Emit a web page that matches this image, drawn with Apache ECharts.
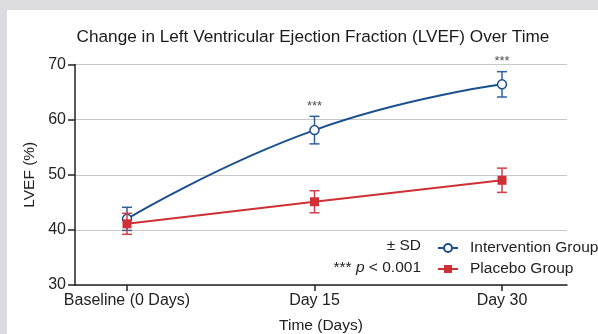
<!DOCTYPE html>
<html>
<head>
<meta charset="utf-8">
<script src="https://cdn.jsdelivr.net/npm/echarts@6/dist/echarts.min.js"></script>
<style>
html,body{margin:0;padding:0;background:#dcdce0;}
#c{width:598px;height:334px;}
</style>
</head>
<body>
<div id="c"></div>
<script>
const categories = ['Baseline (0 Days)', 'Day 15', 'Day 30'];
const days = [0, 15, 30];
const interventionMean = [42.0, 58.1, 66.4];
const interventionSD = [2.1, 2.5, 2.3];
const placeboMean = [41.1, 45.1, 49.0];
const placeboSD = [1.9, 2.0, 2.2];
const yTicks = [30, 40, 50, 60, 70];
const sigDays = [15, 30];
const sigLabels = ['***', '***'];

const BLUE = '#1c4f8f';
const RED = '#cf3036';
const FONT = 'Liberation Sans, Arial, sans-serif';

function pairs(x, y) { return x.map((v, i) => [v, y[i]]); }
function errData(mean, sd) { return days.map((d, i) => [d, mean[i] - sd[i], mean[i] + sd[i]]); }

function errRender(color) {
  return function (params, api) {
    const x = api.value(0);
    const lo = api.coord([x, api.value(1)]);
    const hi = api.coord([x, api.value(2)]);
    const w = 5;
    const style = { stroke: color, lineWidth: 1.5, fill: null };
    return {
      type: 'group',
      children: [
        { type: 'line', shape: { x1: lo[0], y1: lo[1], x2: hi[0], y2: hi[1] }, style },
        { type: 'line', shape: { x1: hi[0] - w, y1: hi[1], x2: hi[0] + w, y2: hi[1] }, style },
        { type: 'line', shape: { x1: lo[0] - w, y1: lo[1], x2: lo[0] + w, y2: lo[1] }, style }
      ]
    };
  };
}

const chart = echarts.init(document.getElementById('c'));
const sigData = sigDays.map(d => {
  const i = days.indexOf(d);
  return [d, interventionMean[i] + interventionSD[i]];
});

chart.setOption({
  backgroundColor: '#dcdce0',
  animation: false,
  textStyle: { fontFamily: FONT },
  graphic: [
    { type: 'rect', z: -100, silent: true, shape: { x: 7, y: 10, width: 600, height: 330 }, style: { fill: '#ffffff' } },
    { type: 'text', x: 421, y: 246, silent: true,
      style: { text: '± SD', align: 'right', verticalAlign: 'middle', fontSize: 15.5, fontFamily: FONT, fill: '#222' } },
    { type: 'text', x: 421, y: 268, silent: true,
      style: { text: '*** {i|p} < 0.001', align: 'right', verticalAlign: 'middle', fontSize: 15.5, fontFamily: FONT, fill: '#222',
        rich: { i: { fontStyle: 'italic', fontSize: 15.5, fontFamily: FONT, fill: '#222' } } } }
  ],
  title: {
    text: 'Change in Left Ventricular Ejection Fraction (LVEF) Over Time',
    left: 308, top: 24, textAlign: 'center',
    textStyle: { fontSize: 17.2, fontWeight: 'normal', color: '#1a1a1a', fontFamily: FONT }
  },
  legend: {
    data: ['Intervention Group', 'Placebo Group'],
    orient: 'vertical', left: 432, top: 235, itemGap: 5,
    itemWidth: 20, itemHeight: 10,
    textStyle: { fontSize: 15.5, color: '#222', fontFamily: FONT, padding: [0, 0, 0, 7] }
  },
  grid: { left: 75, right: 31, top: 64.5, bottom: 49, containLabel: false, outerBoundsMode: 'none' },
  xAxis: {
    type: 'value', min: -4.16, max: 35.2,
    name: 'Time (Days)', nameLocation: 'middle', nameGap: 33,
    nameTextStyle: { fontSize: 15.5, color: '#222', fontFamily: FONT },
    axisLine: { onZero: false, lineStyle: { color: '#222', width: 1.5 } },
    axisTick: { show: true, customValues: days, length: 6, lineStyle: { color: '#222', width: 1.5 } },
    axisLabel: { customValues: days, formatter: v => categories[days.indexOf(v)], fontSize: 16, color: '#222', margin: 8, fontFamily: FONT },
    splitLine: { show: false }
  },
  yAxis: {
    type: 'value', min: 30, max: 70, interval: 10,
    name: 'LVEF (%)', nameLocation: 'middle', nameGap: 37,
    nameTextStyle: { fontSize: 15.5, color: '#222', fontFamily: FONT },
    axisLine: { show: true, onZero: false, lineStyle: { color: '#222', width: 1.5 } },
    axisTick: { show: true, length: 7, lineStyle: { color: '#222', width: 1.5 } },
    axisLabel: { fontSize: 16, color: '#222', margin: 9, fontFamily: FONT, formatter: v => yTicks.includes(v) ? String(v) : '' },
    splitLine: { show: true, lineStyle: { color: '#c8c8c8', width: 1 } }
  },
  series: [
    { type: 'custom', name: 'errI', renderItem: errRender('#2f5f9e'), data: errData(interventionMean, interventionSD), z: 3, silent: true },
    {
      name: 'Intervention Group', type: 'line', smooth: 0.5,
      data: pairs(days, interventionMean),
      symbol: 'circle', symbolSize: 9,
      lineStyle: { color: BLUE, width: 2 },
      itemStyle: { color: '#ffffff', borderColor: BLUE, borderWidth: 1.5 },
      z: 4
    },
    { type: 'custom', name: 'errP', renderItem: errRender('#d04048'), data: errData(placeboMean, placeboSD), z: 5, silent: true },
    {
      name: 'Placebo Group', type: 'line',
      data: pairs(days, placeboMean),
      symbol: 'rect', symbolSize: 9,
      lineStyle: { color: RED, width: 2 },
      itemStyle: { color: RED, borderColor: RED, borderWidth: 0 },
      z: 6
    },
    {
      type: 'scatter', name: 'sig', data: sigData, symbolSize: 1, clip: false, silent: true,
      itemStyle: { color: 'rgba(0,0,0,0)' },
      label: { show: true, position: 'top', distance: 3, formatter: p => sigLabels[p.dataIndex], fontSize: 13, color: '#222', fontFamily: FONT }
    }
  ]
});
</script>
</body>
</html>
